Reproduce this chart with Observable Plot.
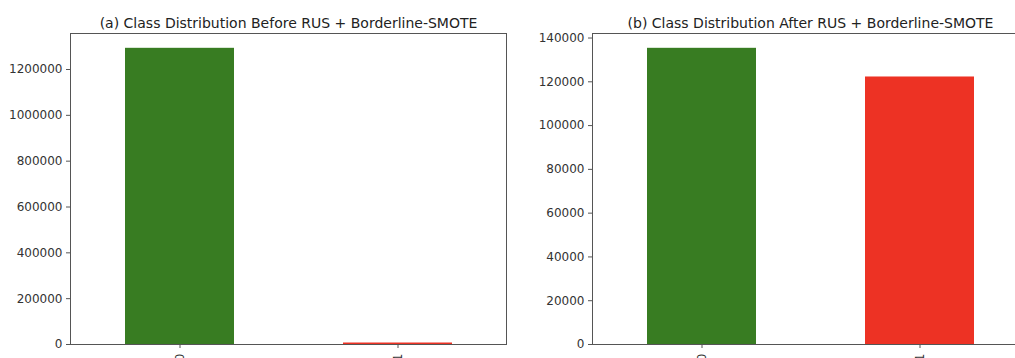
<!DOCTYPE html>
<html>
<head>
<meta charset="utf-8">
<script src="https://cdn.jsdelivr.net/npm/d3@7"></script>
<script src="https://cdn.jsdelivr.net/npm/@observablehq/plot@0.6"></script>
<style>
  html, body { margin: 0; padding: 0; background: #fff; }
  #wrap { position: relative; width: 1015px; height: 358px; overflow: hidden; }
  #wrap > div { position: absolute; top: 0; }
  #wrap svg { max-width: none !important; }
  svg { font-family: "DejaVu Sans", sans-serif; }
</style>
</head>
<body>
<div id="wrap">
  <div id="a" style="left:0px;width:520px"></div>
  <div id="b" style="left:520px;width:508px"></div>
</div>
<script>
const classes = ["0", "1"];
const colors = ["#387c22", "#ed3224"];
const beforeCounts = [1292500, 6500];
const afterCounts = [135300, 122200];
const beforeTicks = [0, 200000, 400000, 600000, 800000, 1000000, 1200000];
const afterTicks = [0, 20000, 40000, 60000, 80000, 100000, 120000, 140000];
const titles = [
  "(a) Class Distribution Before RUS + Borderline-SMOTE",
  "(b) Class Distribution After RUS + Borderline-SMOTE"
];

function panel(counts, ticks, title, width, marginLeft, marginRight) {
  const data = classes.map((c, i) => ({cls: c, count: counts[i], color: colors[i]}));
  const ymax = d3.max(counts) * 1.05;
  return Plot.plot({
    width, height: 358,
    marginTop: 33, marginBottom: 14, marginLeft, marginRight,
    style: {fontFamily: "DejaVu Sans, sans-serif", fontSize: "12px", color: "#333", background: "transparent"},
    x: {domain: classes, paddingInner: 0.5, paddingOuter: 0.25, label: null},
    y: {domain: [0, ymax], label: null},
    marks: [
      Plot.barY(data, {x: "cls", y: "count", fill: "color"}),
      Plot.frame({stroke: "#555", strokeWidth: 1}),
      Plot.axisY({ticks, tickFormat: d => String(d), tickSize: 4, tickPadding: 4, stroke: "#555", fontSize: 12, fill: "#333"}),
      Plot.axisX({tickSize: 4, tickPadding: 5, tickRotate: -90, stroke: "#555", fontSize: 12, fill: "#333"}),
      Plot.text([title], {frameAnchor: "top", lineAnchor: "bottom", dy: -6, fontSize: 14, fill: "#222"})
    ]
  });
}

document.getElementById("a").append(panel(beforeCounts, beforeTicks, titles[0], 520, 70, 14));
document.getElementById("b").append(panel(afterCounts, afterTicks, titles[1], 508, 72, 0));
</script>
</body>
</html>
